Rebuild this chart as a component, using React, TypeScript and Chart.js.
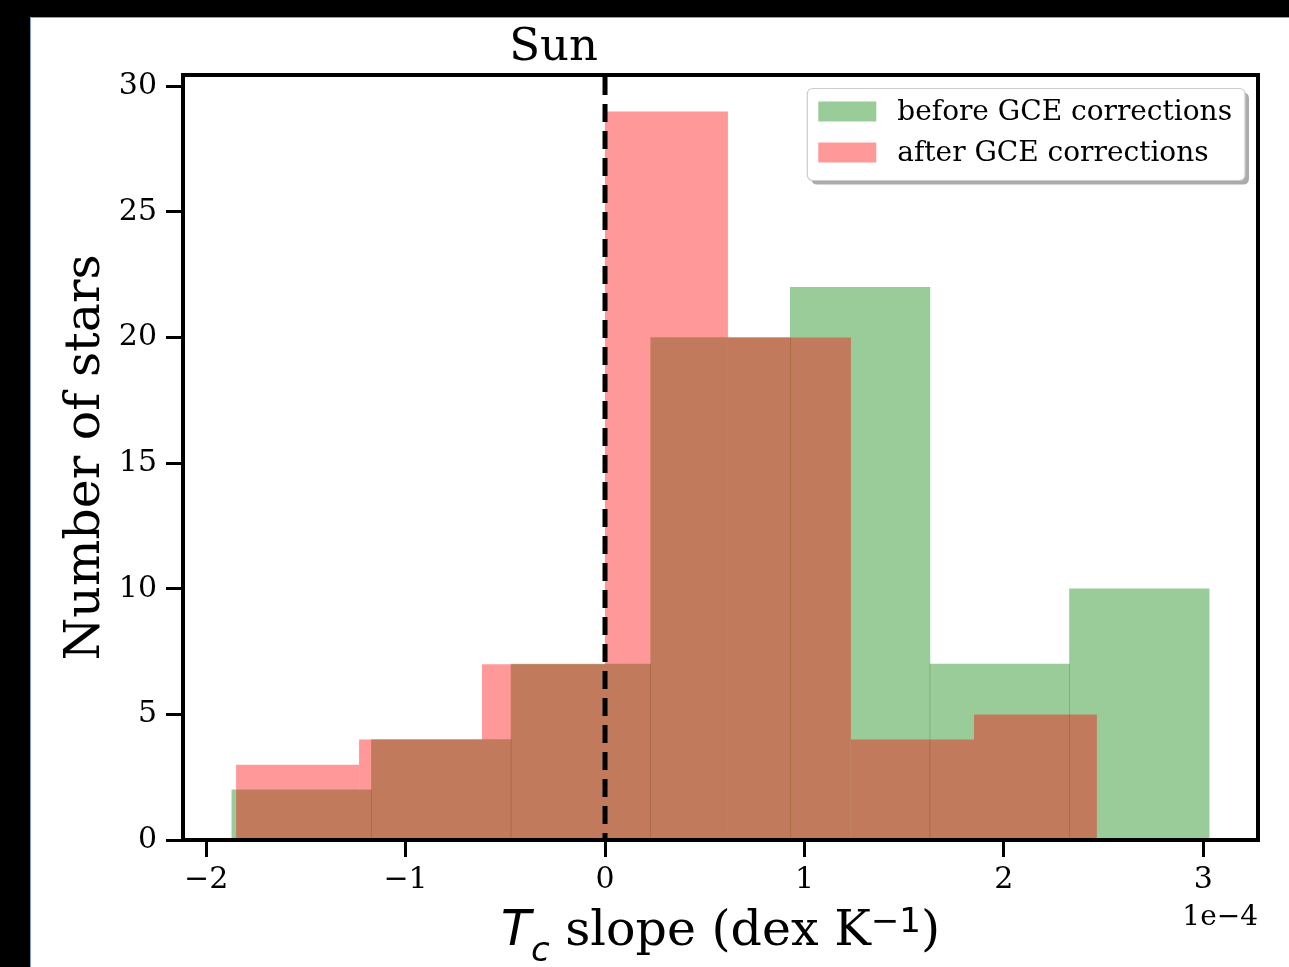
import { useEffect, useRef } from "react";
import { Chart, registerables } from "chart.js";

Chart.register(...registerables);

// Histogram data (x in units of 1e-4 dex/K)
const beforeLabel = "before GCE corrections";
const beforeEdges = [-1.871, -1.171, -0.471, 0.229, 0.929, 1.629, 2.329, 3.029];
const beforeCounts = [2, 4, 7, 20, 22, 7, 10];

const afterLabel = "after GCE corrections";
const afterEdges = [-1.850, -1.233, -0.617, 0.0, 0.616, 1.233, 1.850, 2.466];
const afterCounts = [3, 4, 7, 29, 20, 4, 5];

const xTicks = [-2, -1, 0, 1, 2, 3];
const yTicks = [0, 5, 10, 15, 20, 25, 30];
const sunX = 0;
const sunLabel = "Sun";
const offsetLabel = "1e\u22124";
const yTitle = "Number of stars";

const SERIF = '"DejaVu Serif", serif';
const SANS = '"DejaVu Sans", sans-serif';

const X_MIN = -2.116;
const X_MAX = 3.274;
const Y_MAX = 30.45;

const toBars = (edges: number[], counts: number[]) =>
  counts.map((c, i) => ({ x: (edges[i] + edges[i + 1]) / 2, y: c }));

const hiddenX = {
  type: "linear" as const,
  display: false,
  min: X_MIN,
  max: X_MAX,
  offset: false,
  grid: { offset: false },
  ticks: { stepSize: 100, includeBounds: false },
};

function roundRect(ctx: CanvasRenderingContext2D, x: number, y: number, w: number, h: number, r: number) {
  ctx.beginPath();
  ctx.moveTo(x + r, y);
  ctx.lineTo(x + w - r, y);
  ctx.quadraticCurveTo(x + w, y, x + w, y + r);
  ctx.lineTo(x + w, y + h - r);
  ctx.quadraticCurveTo(x + w, y + h, x + w - r, y + h);
  ctx.lineTo(x + r, y + h);
  ctx.quadraticCurveTo(x, y + h, x, y + h - r);
  ctx.lineTo(x, y + r);
  ctx.quadraticCurveTo(x, y, x + r, y);
  ctx.closePath();
}

const decorPlugin = {
  id: "decor",
  afterDatasetsDraw(chart: any) {
    const { ctx, chartArea: ca, scales } = chart;
    const x0 = scales.x.getPixelForValue(sunX);
    ctx.save();
    ctx.setLineDash([18, 9]);
    ctx.lineDashOffset = -2;
    ctx.lineWidth = 5;
    ctx.strokeStyle = "#000";
    ctx.beginPath();
    ctx.moveTo(x0, ca.top);
    ctx.lineTo(x0, ca.bottom);
    ctx.stroke();
    ctx.restore();
  },
  afterDraw(chart: any) {
    const { ctx, chartArea: ca, scales } = chart;
    ctx.save();
    // frame
    ctx.lineWidth = 4;
    ctx.strokeStyle = "#000";
    ctx.strokeRect(ca.left, ca.top, ca.right - ca.left, ca.bottom - ca.top);

    // Sun label
    ctx.fillStyle = "#000";
    ctx.font = `45px ${SERIF}`;
    ctx.textAlign = "center";
    ctx.textBaseline = "alphabetic";
    ctx.fillText(sunLabel, scales.x.getPixelForValue(-0.258), ca.top - 15.5);

    // offset text
    ctx.font = `28px ${SERIF}`;
    ctx.textAlign = "right";
    ctx.fillText(offsetLabel, ca.right, ca.bottom + 85);

    // x title with math parts
    const size = 49;
    const small = Math.round(size * 0.7);
    const parts = [
      { text: "T", font: `italic ${size}px ${SANS}`, dy: 0 },
      { text: "c", font: `italic ${small}px ${SANS}`, dy: 16 },
      { text: " slope (dex K", font: `${size}px ${SERIF}`, dy: 0 },
      { text: "\u22121", font: `${small}px ${SANS}`, dy: -13 },
      { text: ")", font: `${size}px ${SERIF}`, dy: 0 },
    ];
    let total = 0;
    const widths = parts.map((p) => {
      ctx.font = p.font;
      const w = ctx.measureText(p.text).width;
      total += w;
      return w;
    });
    let cx = (ca.left + ca.right) / 2 - total / 2;
    const baseY = ca.bottom + 105;
    ctx.textAlign = "left";
    parts.forEach((p, i) => {
      ctx.font = p.font;
      ctx.fillText(p.text, cx, baseY + p.dy);
      cx += widths[i];
    });

    // legend
    const ds = chart.data.datasets;
    ctx.font = `28px ${SERIF}`;
    let maxW = 0;
    ds.forEach((d: any) => (maxW = Math.max(maxW, ctx.measureText(d.label).width)));
    const padL = 11, patchW = 58, gap = 21, padR = 13, rowH = 41;
    const fw = padL + patchW + gap + maxW + padR;
    const fh = 92;
    const fr = ca.right - 13;
    const fl = fr - fw;
    const ft = ca.top + 13.5;
    ctx.fillStyle = "rgba(0,0,0,0.33)";
    roundRect(ctx, fl + 4, ft + 4, fw, fh, 6);
    ctx.fill();
    ctx.fillStyle = "#fff";
    roundRect(ctx, fl, ft, fw, fh, 6);
    ctx.fill();
    ctx.lineWidth = 1.2;
    ctx.strokeStyle = "#cccccc";
    ctx.stroke();
    ds.forEach((d: any, i: number) => {
      const cy = ft + 23 + i * rowH;
      ctx.fillStyle = d.backgroundColor;
      ctx.fillRect(fl + padL, cy - 10, patchW, 20);
      ctx.fillStyle = "#000";
      ctx.textBaseline = "middle";
      ctx.fillText(d.label, fl + padL + patchW + gap, cy + 1);
    });
    ctx.restore();
  },
};

export default function App() {
  const ref = useRef<HTMLCanvasElement>(null);
  useEffect(() => {
    const chart = new Chart(ref.current!, {
      type: "bar",
      data: {
        datasets: [
          {
            label: beforeLabel,
            data: toBars(beforeEdges, beforeCounts),
            xAxisID: "xg",
            backgroundColor: "rgba(0,128,0,0.4)",
            borderWidth: 0,
            barPercentage: 1,
            categoryPercentage: 1,
            grouped: false,
            order: 2,
          },
          {
            label: afterLabel,
            data: toBars(afterEdges, afterCounts),
            xAxisID: "xr",
            backgroundColor: "rgba(255,0,0,0.4)",
            borderWidth: 0,
            inflateAmount: 0,
            barPercentage: 1,
            categoryPercentage: 1,
            grouped: false,
            order: 1,
          },
        ] as any,
      },
      options: {
        animation: false,
        responsive: false,
        devicePixelRatio: 1,
        events: [],
        layout: { padding: { top: 57, right: 31, bottom: 0, left: 0 } },
        plugins: { legend: { display: false }, tooltip: { enabled: false }, title: { display: false } },
        scales: {
          x: {
            type: "linear",
            position: "bottom",
            min: X_MIN,
            max: X_MAX,
            offset: false,
            afterBuildTicks: (s: any) => {
              s.ticks = xTicks.map((v) => ({ value: v }));
            },
            afterFit: (s: any) => {
              s.height = 127;
            },
            ticks: {
              font: { family: SERIF, size: 30 },
              color: "#000",
              padding: 5,
              maxRotation: 0,
              autoSkip: false,
              callback: (v: any) => (v < 0 ? "\u2212" : "") + Math.abs(v),
            },
            grid: { offset: false, drawOnChartArea: false, drawTicks: true, tickLength: 17, tickWidth: 3, tickColor: "#000" },
            border: { display: true, color: "#000", width: 4 },
          },
          xg: hiddenX,
          xr: hiddenX,
          y: {
            type: "linear",
            position: "left",
            min: 0,
            max: Y_MAX,
            afterBuildTicks: (s: any) => {
              s.ticks = yTicks.map((v) => ({ value: v }));
            },
            afterFit: (s: any) => {
              s.width = 152;
            },
            ticks: { font: { family: SERIF, size: 30 }, color: "#000", padding: 9, autoSkip: false },
            grid: { drawOnChartArea: false, drawTicks: true, tickLength: 17, tickWidth: 3, tickColor: "#000" },
            border: { display: true, color: "#000", width: 4 },
            title: {
              display: true,
              text: yTitle,
              color: "#000",
              font: { family: SERIF, size: 49 },
              padding: { top: 26, bottom: 0 },
            },
          },
        } as any,
      },
      plugins: [decorPlugin],
    });
    return () => chart.destroy();
  }, []);
  return (
    <div style={{ position: "fixed", inset: 0, background: "#000" }}>
      <div
        style={{
          position: "absolute",
          left: 30,
          top: 17,
          right: 0,
          bottom: 0,
          background: "#fff",
          borderLeft: "1px solid #7f9fd6",
          borderTop: "1px solid #7f9fd6",
        }}
      >
        <canvas ref={ref} width={1258} height={949} style={{ position: "absolute", left: 0, top: 0, width: 1258, height: 949 }} />
      </div>
    </div>
  );
}
